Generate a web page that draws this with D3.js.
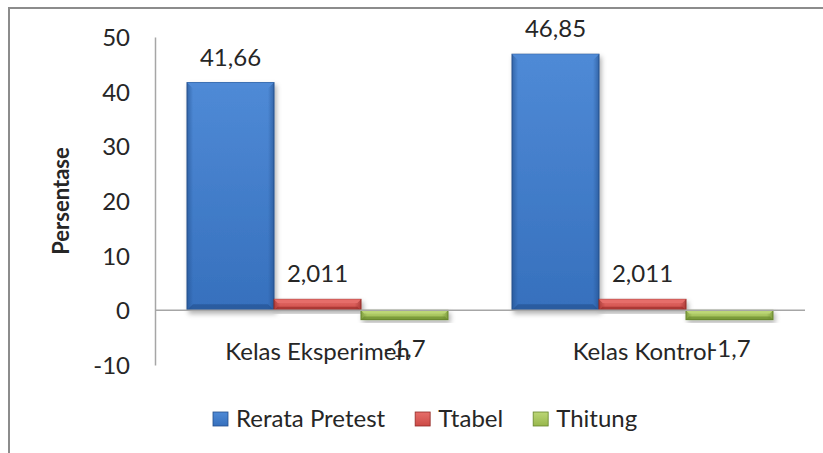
<!DOCTYPE html>
<html><head><meta charset="utf-8">
<script src="https://cdn.jsdelivr.net/npm/d3@7"></script>
<style>body{margin:0;background:#fff}svg{display:block}text{font-family:Lato,"Open Sans",sans-serif;fill:#262626}</style>
</head><body>
<svg id="c" width="823" height="453"></svg>
<script>
const categories = ["Kelas Eksperimen", "Kelas Kontrol"];
const series = ["Rerata Pretest", "Ttabel", "Thitung"];
const values = {
  "Rerata Pretest": [41.66, 46.85],
  "Ttabel": [2.011, 2.011],
  "Thitung": [-1.7, -1.7]
};
const valueLabels = {
  "Rerata Pretest": ["41,66", "46,85"],
  "Ttabel": ["2,011", "2,011"],
  "Thitung": ["-1,7", "-1,7"]
};
const yTicks = [-10, 0, 10, 20, 30, 40, 50];
const yTitle = "Persentase";
const colors = {
  "Rerata Pretest": {light:"#4f8ad6", mid:"#3670bd", dark:"#234f8c"},
  "Ttabel": {light:"#e66e6a", mid:"#cc4a46", dark:"#922a27"},
  "Thitung": {light:"#bcd676", mid:"#97b74c", dark:"#66852b"}
};
const FS = "24px";

const svg = d3.select("#c");
const defs = svg.append("defs");
const f = defs.append("filter").attr("id","sh").attr("x","-20%").attr("y","-20%").attr("width","150%").attr("height","150%");
f.append("feDropShadow").attr("dx",2).attr("dy",3).attr("stdDeviation",2.5).attr("flood-color","#000").attr("flood-opacity",0.3);
series.forEach((s,i)=>{
  const c = colors[s];
  const g = defs.append("linearGradient").attr("id","g"+i).attr("x1",0).attr("y1",0).attr("x2",0).attr("y2",1);
  g.append("stop").attr("offset","0%").attr("stop-color",c.light);
  g.append("stop").attr("offset","100%").attr("stop-color",c.mid);
  const gh = defs.append("linearGradient").attr("id","gh"+i).attr("x1",0).attr("y1",0).attr("x2",1).attr("y2",0);
  gh.append("stop").attr("offset","0%").attr("stop-color",c.dark).attr("stop-opacity",0.6);
  gh.append("stop").attr("offset","7%").attr("stop-color",c.dark).attr("stop-opacity",0);
  gh.append("stop").attr("offset","93%").attr("stop-color",c.dark).attr("stop-opacity",0);
  gh.append("stop").attr("offset","100%").attr("stop-color",c.dark).attr("stop-opacity",0.6);
});

// outer frame
svg.append("rect").attr("x",9).attr("y",8).attr("width",830).attr("height",460)
  .attr("fill","none").attr("stroke","#8c8c8c").attr("stroke-width",2);

const y = d3.scaleLinear().domain([-10,50]).range([365,37]);
const x0 = d3.scaleBand().domain(categories).range([155,805]).paddingInner(0).paddingOuter(0);
const x1 = d3.scaleBand().domain(series).range([0,x0.bandwidth()]).paddingInner(0).paddingOuter(0.368);

// y axis
const yAxis = d3.axisLeft(y).tickValues(yTicks).tickSize(0).tickPadding(25).tickFormat(d => String(d));
const ga = svg.append("g").attr("transform","translate(155,0)").call(yAxis);
ga.select(".domain").attr("stroke","#a6a6a6").attr("stroke-width",1.5);
ga.selectAll("text").style("font-size",FS).attr("fill","#262626").attr("dy","0.36em");

svg.append("text").attr("transform","translate(69,201) rotate(-90)").attr("text-anchor","middle")
  .style("font-size","22px").style("font-weight","bold").attr("fill","#000").text(yTitle);

// bars
const bars = [];
categories.forEach((cat,ci)=>series.forEach((s,si)=>bars.push({cat,s,si,v:values[s][ci],lab:valueLabels[s][ci]})));
const bg = svg.append("g");
bars.forEach(b=>{
  const bx = x0(b.cat)+x1(b.s), bw = x1.bandwidth();
  const top = y(Math.max(0,b.v)), bot = y(Math.min(0,b.v)), h = bot-top;
  const c = colors[b.s];
  const g = bg.append("g");
  g.append("rect").attr("x",bx).attr("y",top).attr("width",bw).attr("height",h)
    .attr("fill","url(#g"+b.si+")").attr("stroke",c.dark).attr("stroke-width",1).attr("filter","url(#sh)");
  g.append("rect").attr("x",bx).attr("y",top).attr("width",bw).attr("height",h).attr("fill","url(#gh"+b.si+")");
  const bev = Math.min(6, h/3);
  g.append("path").attr("d",`M${bx},${top}L${bx+bw},${top}L${bx+bw-bev},${top+bev}L${bx+bev},${top+bev}Z`)
    .attr("fill",c.light).attr("opacity",1);
  g.append("path").attr("d",`M${bx},${bot}L${bx+bw},${bot}L${bx+bw-bev},${bot-bev}L${bx+bev},${bot-bev}Z`)
    .attr("fill",c.dark).attr("opacity",0.6);
});

// zero line
svg.append("line").attr("x1",155).attr("x2",805).attr("y1",y(0)).attr("y2",y(0)).attr("stroke","#a6a6a6").attr("stroke-width",1.5);

// category labels
categories.forEach(cat=>{
  svg.append("text").attr("x",x0(cat)+x0.bandwidth()/2).attr("y",360).attr("text-anchor","middle")
    .style("font-size",FS).text(cat);
});

// value labels
bars.forEach(b=>{
  const cx = x0(b.cat)+x1(b.s)+x1.bandwidth()/2;
  const yy = b.v>=0 ? y(b.v)-17 : y(b.v)+37;
  svg.append("text").attr("x",cx).attr("y",yy).attr("text-anchor","middle").style("font-size",FS).text(b.lab);
});

// legend
const lg = svg.append("g");
let lx = 213;
series.forEach((s,si)=>{
  const c = colors[s];
  lg.append("rect").attr("x",lx).attr("y",412).attr("width",15).attr("height",14)
    .attr("fill","url(#g"+si+")").attr("stroke",c.dark).attr("stroke-width",0.8);
  const t = lg.append("text").attr("x",lx+23).attr("y",427).style("font-size",FS).text(s);
  const w = t.node().getComputedTextLength();
  lx += 23 + w + 30;
});
</script>
</body></html>
